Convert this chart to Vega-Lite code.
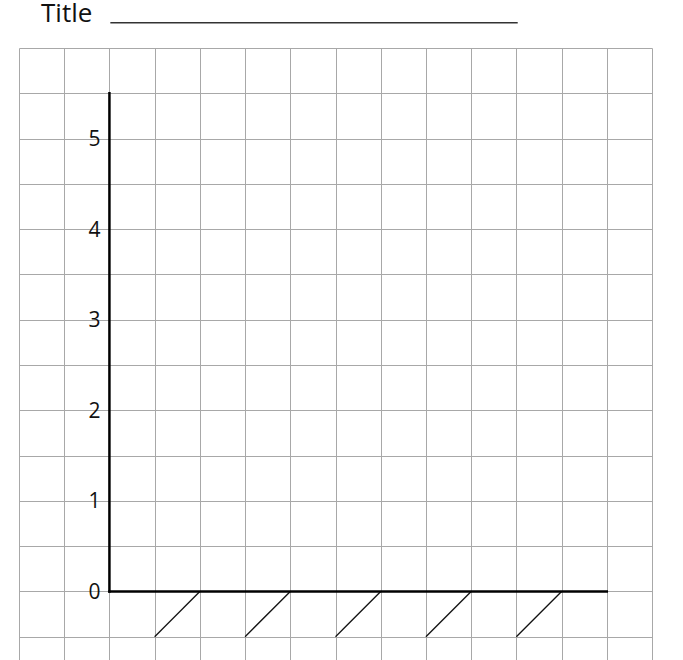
{
  "$schema": "https://vega.github.io/schema/vega-lite/v6.json",
  "autosize": "none",
  "padding": {"left": 19, "top": 48, "right": 31, "bottom": 0},
  "width": 633,
  "height": 634,
  "background": "white",
  "title": {
    "text": "Title",
    "anchor": "start",
    "frame": "group",
    "baseline": "alphabetic",
    "offset": -26,
    "dx": 22,
    "font": "Open Sans",
    "fontSize": 26,
    "fontWeight": "normal",
    "color": "#111"
  },
  "encoding": {
    "x": {
      "field": "x",
      "type": "quantitative",
      "scale": {"domain": [-2, 12], "nice": false, "zero": false},
      "axis": {
        "values": [-2, -1, 0, 1, 2, 3, 4, 5, 6, 7, 8, 9, 10, 11, 12],
        "grid": true, "gridColor": "#a8a8a8", "gridWidth": 1,
        "domain": false, "ticks": false, "labels": false, "title": null
      }
    },
    "y": {
      "field": "y",
      "type": "quantitative",
      "scale": {"domain": [-1, 6], "nice": false, "zero": false},
      "axis": {
        "values": [-1, -0.5, 0, 0.5, 1, 1.5, 2, 2.5, 3, 3.5, 4, 4.5, 5, 5.5, 6],
        "grid": true, "gridColor": "#a8a8a8", "gridWidth": 1,
        "domain": false, "ticks": false, "labels": false, "title": null
      }
    }
  },
  "layer": [
    {
      "data": {"values": [
        {"x": 1, "y": -0.5, "x2": 2, "y2": 0},
        {"x": 3, "y": -0.5, "x2": 4, "y2": 0},
        {"x": 5, "y": -0.5, "x2": 6, "y2": 0},
        {"x": 7, "y": -0.5, "x2": 8, "y2": 0},
        {"x": 9, "y": -0.5, "x2": 10, "y2": 0}
      ]},
      "mark": {"type": "rule", "color": "#111", "strokeWidth": 1.3},
      "encoding": {"x2": {"field": "x2"}, "y2": {"field": "y2"}}
    },
    {
      "data": {"values": [
        {"x": 0, "y": 0, "x2": 0, "y2": 5.5},
        {"x": 0, "y": 0, "x2": 11, "y2": 0}
      ]},
      "mark": {"type": "rule", "color": "#000", "strokeWidth": 2.5, "strokeCap": "square"},
      "encoding": {"x2": {"field": "x2"}, "y2": {"field": "y2"}}
    },
    {
      "data": {"values": [{"x": 0.02, "x2": 9.03, "y": 6.28}]},
      "mark": {"type": "rule", "color": "#333", "strokeWidth": 1.5},
      "encoding": {"x2": {"field": "x2"}}
    },
    {
      "data": {"values": [
        {"x": 0, "y": 0}, {"x": 0, "y": 1}, {"x": 0, "y": 2},
        {"x": 0, "y": 3}, {"x": 0, "y": 4}, {"x": 0, "y": 5}
      ]},
      "mark": {
        "type": "text", "align": "right", "baseline": "middle", "dx": -9, "dy": 1.5,
        "font": "Open Sans", "fontSize": 21, "color": "#111"
      },
      "encoding": {
        "text": {"field": "y", "type": "quantitative"}
      }
    }
  ],
  "config": {"view": {"stroke": null}}
}
